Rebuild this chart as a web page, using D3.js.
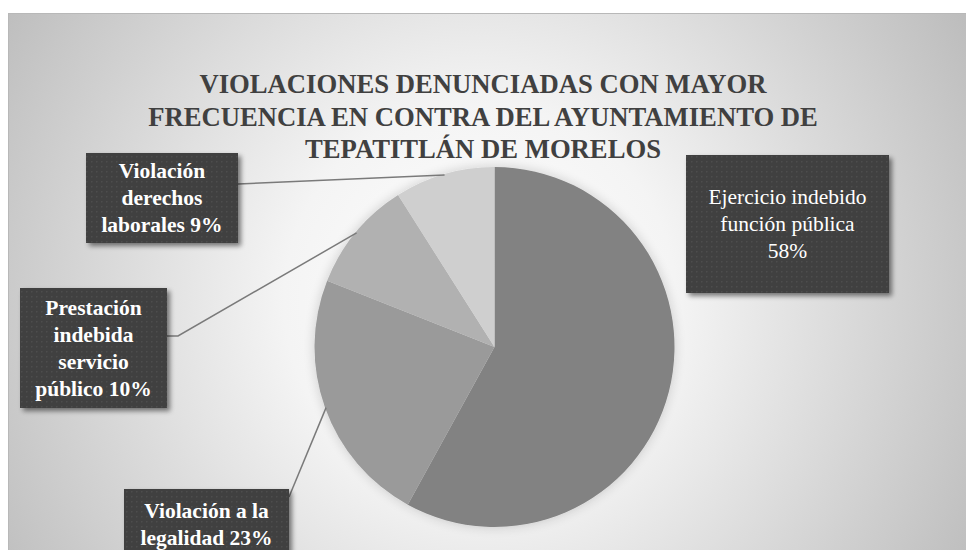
<!DOCTYPE html>
<html><head><meta charset="utf-8">
<script src="https://cdn.jsdelivr.net/npm/d3@7"></script>
<style>
html,body{margin:0;padding:0;background:#fff;}
svg{display:block;}
</style>
</head><body>
<script>
const titleLines = ["VIOLACIONES DENUNCIADAS CON MAYOR", "FRECUENCIA EN CONTRA DEL AYUNTAMIENTO DE", "TEPATITLÁN DE MORELOS"];
const categories = ["Ejercicio indebido función pública", "Violación a la legalidad", "Prestación indebida servicio público", "Violación derechos laborales"];
const values = [58, 23, 10, 9];
const labelLines = [
  ["Ejercicio indebido", "función pública", "58%"],
  ["Violación a la", "legalidad 23%"],
  ["Prestación", "indebida", "servicio", "público 10%"],
  ["Violación", "derechos", "laborales 9%"]
];
const sliceColors = ["#828282", "#9a9a9a", "#b1b1b1", "#cfcfcf"];

const FONT = '"Times New Roman"';

// layout
const W = 966, H = 550;
const cx = 494.5, cy = 347, R = 180;
const boxes = [
  {x: 686, y: 155, w: 203, h: 138, bold: false, leader: null},
  {x: 124, y: 489, w: 165, h: 70, bold: true, leader: [[289, 497]]},
  {x: 20, y: 288, w: 147, h: 120, bold: true, leader: [[178, 336], [167, 336]]},
  {x: 86, y: 153, w: 152, h: 90, bold: true, leader: [[238, 184]]}
];

const svg = d3.select("body").append("svg").attr("width", W).attr("height", H);
const defs = svg.append("defs");

const bg = defs.append("radialGradient").attr("id", "bg")
  .attr("gradientUnits", "userSpaceOnUse").attr("cx", 480).attr("cy", 300).attr("r", 560);
bg.append("stop").attr("offset", "0").attr("stop-color", "#ffffff");
bg.append("stop").attr("offset", "0.35").attr("stop-color", "#f4f4f4");
bg.append("stop").attr("offset", "1").attr("stop-color", "#bdbdbd");

const pat = defs.append("pattern").attr("id", "dots").attr("patternUnits", "userSpaceOnUse")
  .attr("width", 5).attr("height", 5);
pat.append("rect").attr("width", 5).attr("height", 5).attr("fill", "#404040");
pat.append("rect").attr("x", 1).attr("y", 1).attr("width", 1.5).attr("height", 1.5).attr("fill", "#4d4d4d");

const sh = defs.append("filter").attr("id", "pieShadow").attr("x", "-20%").attr("y", "-20%").attr("width", "140%").attr("height", "140%");
sh.append("feGaussianBlur").attr("in", "SourceAlpha").attr("stdDeviation", 6).attr("result", "b");
sh.append("feComponentTransfer").attr("in", "b").attr("result", "b2")
  .append("feFuncA").attr("type", "linear").attr("slope", 0.18);
const m1 = sh.append("feMerge"); m1.append("feMergeNode").attr("in", "b2"); m1.append("feMergeNode").attr("in", "SourceGraphic");

const bs = defs.append("filter").attr("id", "boxShadow").attr("x", "-20%").attr("y", "-20%").attr("width", "140%").attr("height", "140%");
bs.append("feGaussianBlur").attr("in", "SourceAlpha").attr("stdDeviation", 2.5).attr("result", "b");
bs.append("feOffset").attr("in", "b").attr("dx", 3).attr("dy", 3).attr("result", "o");
bs.append("feComponentTransfer").attr("in", "o").attr("result", "o2")
  .append("feFuncA").attr("type", "linear").attr("slope", 0.5);
const m2 = bs.append("feMerge"); m2.append("feMergeNode").attr("in", "o2"); m2.append("feMergeNode").attr("in", "SourceGraphic");

// chart area
svg.append("rect").attr("x", 8).attr("y", 13).attr("width", W - 8).attr("height", H - 13).attr("fill", "url(#bg)");
svg.append("line").attr("x1", 8).attr("x2", W).attr("y1", 13.5).attr("y2", 13.5).attr("stroke", "#b8b8b8");
svg.append("line").attr("x1", 8.5).attr("x2", 8.5).attr("y1", 13).attr("y2", H).attr("stroke", "#b8b8b8");

// title (sized so the longest line spans ~670px)
const title = svg.append("text").style("font-family", FONT).attr("text-anchor", "middle")
  .style("font-weight", "bold").style("font-size", "26px").attr("fill", "#404040");
const tsp = titleLines.map((t, i) => title.append("tspan").attr("x", 483).attr("y", 93 + i * 32.5).text(t));
const wLong = tsp[1].node().getComputedTextLength();
if (wLong > 0) title.style("font-size", (26 * 670 / wLong).toFixed(2) + "px");

// pie
const pie = d3.pie().sort(null).value(d => d)(values);
const arc = d3.arc().innerRadius(0).outerRadius(R);
const g = svg.append("g").attr("transform", `translate(${cx},${cy})`);
g.append("g").attr("filter", "url(#pieShadow)").selectAll("path").data(pie).join("path")
  .attr("d", arc).attr("fill", (d, i) => sliceColors[i]);

// leaders
const lineGen = d3.line();
pie.forEach((d, i) => {
  const b = boxes[i];
  if (!b.leader) return;
  const a = (d.startAngle + d.endAngle) / 2;
  const p0 = [cx + Math.sin(a) * (R - 1), cy - Math.cos(a) * (R - 1)];
  svg.append("path").attr("d", lineGen([p0, ...b.leader])).attr("fill", "none")
    .attr("stroke", "#7a7a7a").attr("stroke-width", 1.5);
});

// label boxes
boxes.forEach((b, i) => {
  const bg2 = svg.append("g").attr("filter", "url(#boxShadow)");
  bg2.append("rect").attr("x", b.x).attr("y", b.y).attr("width", b.w).attr("height", b.h).attr("fill", "url(#dots)");
  const lines = labelLines[i];
  const lh = 27;
  const t = svg.append("text").style("font-family", FONT).attr("text-anchor", "middle")
    .style("font-weight", b.bold ? "bold" : "normal")
    .style("font-size", "21.5px").attr("fill", "#ffffff");
  const y0 = b.y + b.h / 2 - (lines.length - 1) * lh / 2 + 7;
  lines.forEach((s, j) => t.append("tspan").attr("x", b.x + b.w / 2).attr("y", y0 + j * lh).text(s));
});
</script>
</body></html>
